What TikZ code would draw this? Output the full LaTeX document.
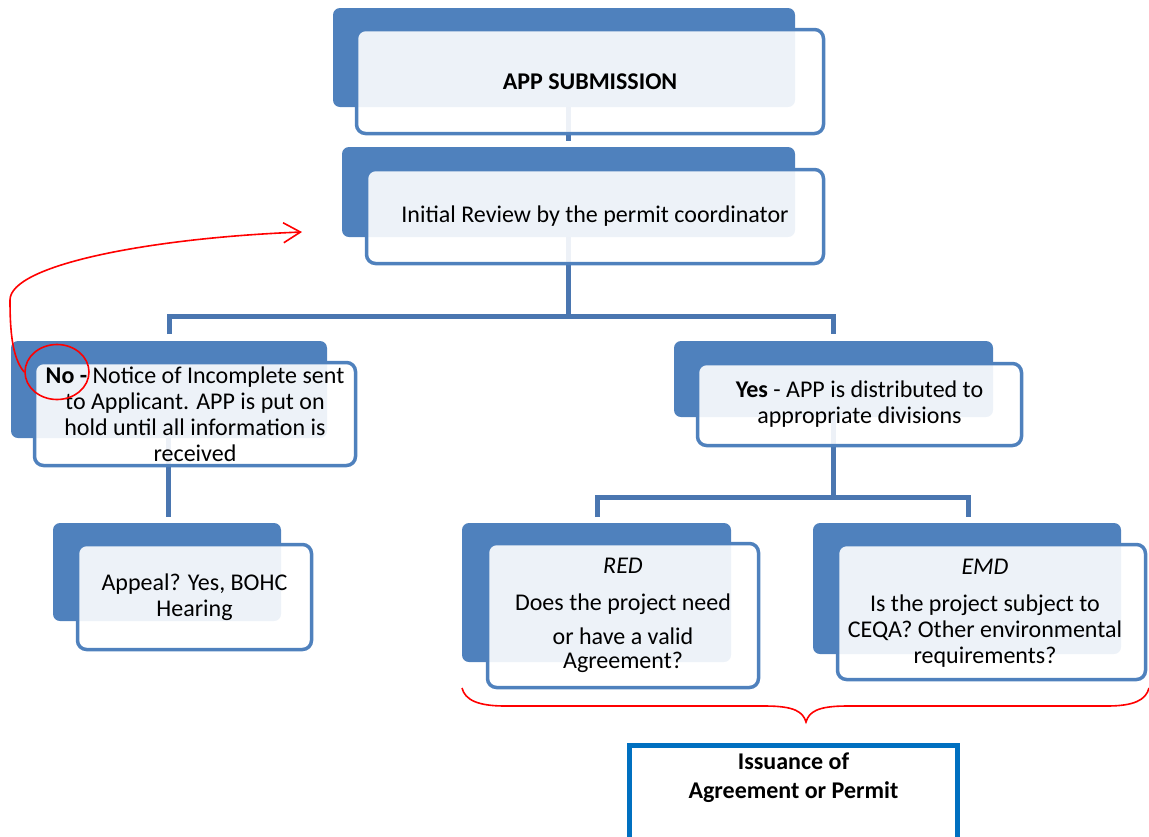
\documentclass[tikz,border=0pt]{standalone}
\usepackage{fontspec}
\setmainfont{Carlito}
\usetikzlibrary{arrows.meta,shapes.geometric}
\definecolor{boxblue}{HTML}{4F81BD}
\definecolor{connblue}{HTML}{4A76B0}
\definecolor{issueblue}{HTML}{0070C0}
\begin{document}
\begin{tikzpicture}[x=1pt,y=-1pt,
  back/.style={fill=boxblue, rounded corners=7pt, inner sep=0pt, outer sep=0pt},
  front/.style={draw=boxblue, line width=3.5pt, fill=white, fill opacity=0.9, text opacity=1,
     rounded corners=9pt, align=center, inner sep=0pt, font=\fontsize{24}{26}\selectfont},
  conn/.style={draw=connblue, line width=5pt},
  redmark/.style={draw=red, line width=1.6pt},
  issue/.style={draw=issueblue, line width=5pt, fill=white, align=center,
     font=\fontsize{24}{29}\selectfont\bfseries}]
\useasboundingbox (0,0) rectangle (1149,836);
\clip (0,0) rectangle (1149,836);

% back boxes
\node[back, minimum width=462pt, minimum height=99pt] (subB) at (564,57.5) {};
\node[back, minimum width=453pt, minimum height=90pt] (revB) at (568.5,192) {};
\node[back, minimum width=316pt, minimum height=97pt] (noB) at (169,389.5) {};
\node[back, minimum width=319pt, minimum height=76pt] (yesB) at (833.5,379) {};
\node[back, minimum width=228pt, minimum height=98pt] (appB) at (167,572) {};
\node[back, minimum width=269pt, minimum height=139pt] (redB) at (596.5,592.5) {};
\node[back, minimum width=308pt, minimum height=131pt] (emdB) at (967,588.5) {};

% connector coordinates
\coordinate (j1) at (568,316);
\coordinate (nL) at (169,316);
\coordinate (yR) at (833,316);
\coordinate (j2) at (833,497);
\coordinate (rL) at (597,497);
\coordinate (eR) at (968,497);
\coordinate (j3) at (168,480);

% connectors
\draw[conn, shorten >=6pt] (subB.south -| j1) -- (revB.north -| j1);
\draw[conn] (revB.south -| j1) -- (j1);
\draw[conn, shorten <=7pt, shorten >=7pt] (noB.north -| nL) |- (j1) -| (yesB.north -| yR);
\draw[conn] (yesB.south -| j2) -- (j2);
\draw[conn, shorten <=6pt, shorten >=6pt] (redB.north -| rL) |- (j2) -| (emdB.north -| eR);
\draw[conn, shorten >=6pt] (noB.south -| j3) -- (appB.north -| j3);

% front boxes
\node[front, minimum width=467pt, minimum height=104pt] (subF) at (590,81.5) {\textbf{APP SUBMISSION}};
\node[front, minimum width=457pt, minimum height=94pt] (revF) at (595,216.5) {Initial Review by the permit coordinator};
\node[front, minimum width=321pt, minimum height=103pt] (noF) at (195,414) {\textbf{No -} Notice of Incomplete sent\\to Applicant. APP is put on\\hold until all information is\\received};
\node[front, minimum width=324pt, minimum height=82pt] (yesF) at (859.5,404.5) {\textbf{Yes} - APP is distributed to\\appropriate divisions};
\node[front, minimum width=234pt, minimum height=105pt] (appF) at (194.5,597) {Appeal? Yes, BOHC\\Hearing};
\node[front, minimum width=271pt, minimum height=144pt, font=\fontsize{24}{24}\selectfont] (redF) at (623,615.5) {\textit{RED}\\[13pt]Does the project need\\[10pt]or have a valid\\Agreement?};
\node[front, minimum width=308pt, minimum height=135pt] (emdF) at (991.5,612) {};
\node[align=center, inner sep=0pt, font=\fontsize{24}{26}\selectfont] (emdT) at (985,613) {\textit{EMD}\\[11pt]Is the project subject to\\CEQA? Other environmental\\requirements?};

% issuance box
\node[issue, anchor=north, minimum width=328pt, inner sep=8pt, text depth=85pt] (iss) at (793.5,742.5) {Issuance of\\Agreement or Permit};

% red annotations
\node[redmark, ellipse, inner sep=0pt, minimum width=64pt, minimum height=55pt] (circ) at (57,372) {};
\coordinate (tipR) at (302,232);
\draw[redmark, -{Straight Barb[length=17pt,width=20pt]}] (circ.west) .. controls (12,358) and (10,330) .. (10,300) .. controls (10,265) and (150,238) .. (tipR);
\coordinate (bL) at (462,688);
\coordinate (bT) at (806,722);
\coordinate (bR) at (1149,688);
\draw[redmark] (bL) .. controls (465,700) and (478,706) .. (505,706) -- (765,706) .. controls (795,706) and (803,712) .. (bT) .. controls (809,712) and (817,706) .. (847,706) -- (1107,706) .. controls (1134,706) and (1146,700) .. (bR);
\end{tikzpicture}
\end{document}
